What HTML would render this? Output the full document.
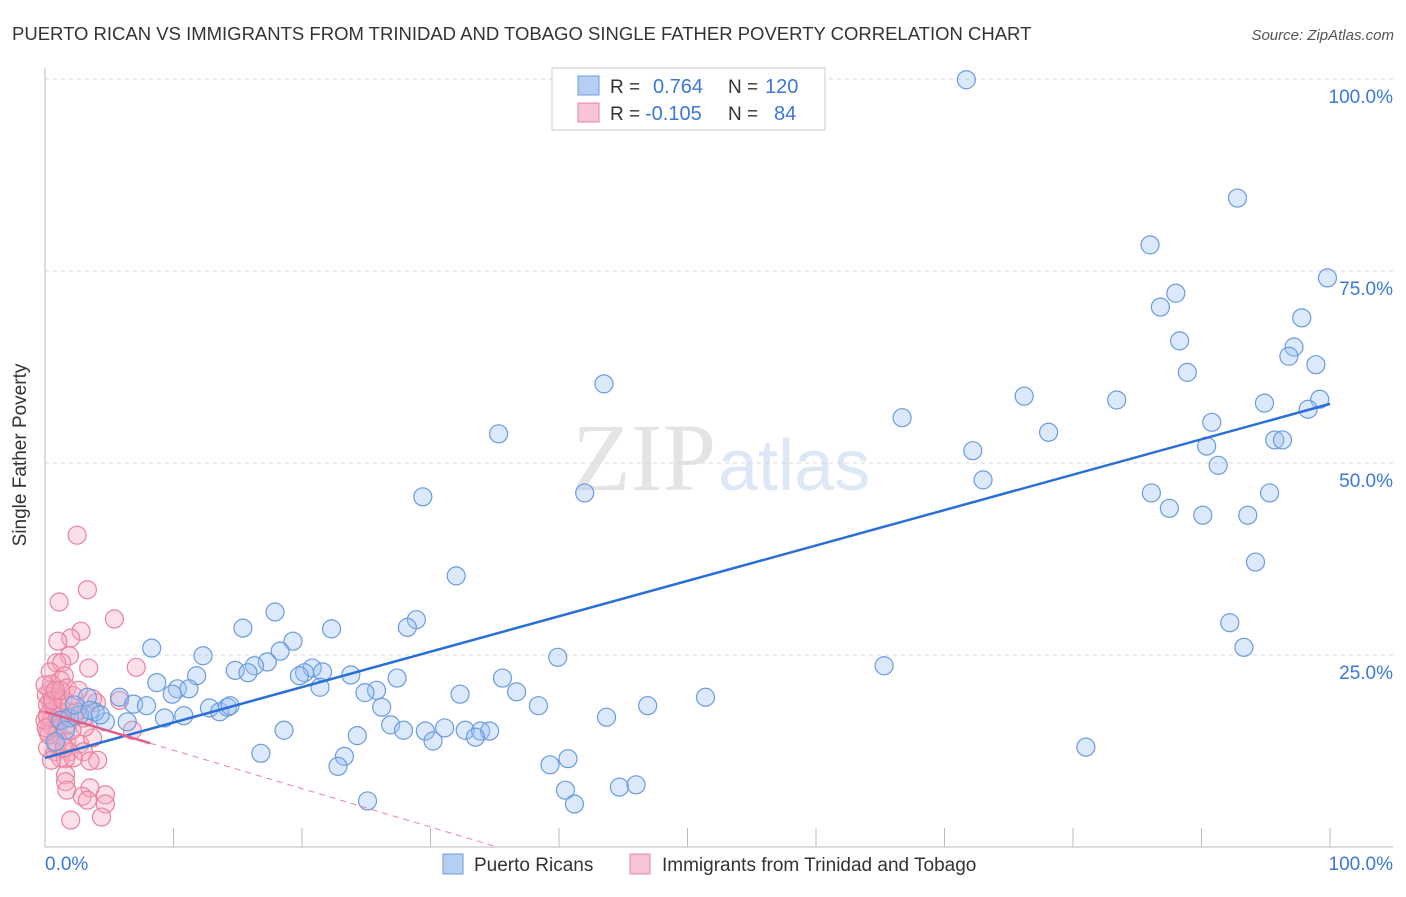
<!DOCTYPE html>
<html><head><meta charset="utf-8"><style>
body{margin:0;background:#fff;}
svg text{font-family:"Liberation Sans",sans-serif;}
</style></head><body>
<svg width="1406" height="892" viewBox="0 0 1406 892" xmlns="http://www.w3.org/2000/svg">
<text x="12" y="40" font-size="18.5" fill="#333">PUERTO RICAN VS IMMIGRANTS FROM TRINIDAD AND TOBAGO SINGLE FATHER POVERTY CORRELATION CHART</text>
<text x="1394" y="40" font-size="15" font-style="italic" fill="#555" text-anchor="end">Source: ZipAtlas.com</text>
<text x="716" y="490" font-size="96" fill="#e4e4e4" text-anchor="end" style="font-family:'Liberation Serif',serif">ZIP</text>
<text x="718" y="490" font-size="72" fill="#dde8f6">atlas</text>
<g id="grid"></g>
<g id="axes"></g>
<g id="pts"></g>
<g id="lines"></g>
<text x="26" y="455" font-size="19" fill="#333" text-anchor="middle" transform="rotate(-90 26 455)">Single Father Poverty</text>
<text x="45" y="870" font-size="19" fill="#3b78d8">0.0%</text>
<text x="1393" y="870" font-size="19" fill="#3b78d8" text-anchor="end">100.0%</text>
<g>
<rect x="552" y="68" width="273" height="62" fill="#fff" stroke="#ccc"/>
<rect x="578" y="76" width="21" height="19" fill="#b5cff2" stroke="#6a9be0"/>
<rect x="578" y="103" width="21" height="19" fill="#f8c5d5" stroke="#e8839f"/>
<text x="610" y="93" font-size="19" fill="#333">R =</text>
<text x="653" y="93" font-size="20" fill="#3b78d8">0.764</text>
<text x="728" y="93" font-size="19" fill="#333">N =</text>
<text x="765" y="93" font-size="20" fill="#3b78d8">120</text>
<text x="610" y="120" font-size="19" fill="#333">R =</text>
<text x="645" y="120" font-size="20" fill="#3b78d8">-0.105</text>
<text x="728" y="120" font-size="19" fill="#333">N =</text>
<text x="774" y="120" font-size="20" fill="#3b78d8">84</text>
</g>
<g>
<rect x="443" y="854" width="20" height="20" fill="#b5cff2" stroke="#6a9be0"/>
<text x="474" y="871" font-size="19" fill="#333">Puerto Ricans</text>
<rect x="630" y="854" width="20" height="20" fill="#f8c5d5" stroke="#e8839f"/>
<text x="662" y="871" font-size="19" fill="#333">Immigrants from Trinidad and Tobago</text>
</g>
</svg>
<script>
const yTicks=[25,50,75,100];
const yTickLabels=["25.0%","50.0%","75.0%","100.0%"];
const xTicks=[10,20,30,40,50,60,70,80,90,100];
const blueX=[71.7,92.8,86.0,99.8,88.0,86.8,97.8,88.3,97.2,96.8,98.9,88.9,43.5,66.7,76.2,83.4,99.2,94.9,98.3,90.8,78.1,35.3,95.7,96.3,90.4,72.2,91.3,73.0,42.0,86.1,95.3,29.4,87.5,90.1,93.6,32.0,94.2,92.2,93.3,8.3,28.9,28.2,17.9,22.3,15.4,19.3,12.3,39.9,65.3,18.3,17.3,14.8,16.3,11.8,15.8,20.8,21.6,20.2,19.8,23.8,8.7,10.3,11.2,21.4,25.8,24.9,27.4,35.6,32.3,36.7,51.4,3.3,5.8,6.9,7.9,9.9,12.8,13.6,14.2,14.4,26.2,38.4,46.9,43.7,10.8,9.3,6.4,4.7,18.6,26.9,27.9,29.6,31.1,32.7,33.9,34.6,33.5,30.2,24.3,16.8,23.3,22.8,39.3,40.7,81.0,40.5,44.7,46.0,41.2,25.1,1.2,1.9,2.7,1.6,3.9,0.8,2.3,3.5,4.3];
const blueY=[99.9,84.5,78.4,74.1,72.1,70.3,68.9,65.9,65.1,63.9,62.8,61.8,60.3,55.9,58.7,58.2,58.3,57.8,57.0,55.3,54.0,53.8,53.0,53.0,52.2,51.6,49.7,47.8,46.1,46.1,46.1,45.6,44.1,43.2,43.2,35.3,37.1,29.2,26.0,25.9,29.6,28.6,30.6,28.4,28.5,26.8,24.9,24.7,23.6,25.5,24.1,23.0,23.6,22.3,22.7,23.3,22.8,22.7,22.3,22.4,21.4,20.6,20.6,20.8,20.4,20.1,22.0,22.0,19.9,20.2,19.5,19.5,19.5,18.6,18.4,19.9,18.1,17.6,18.2,18.4,18.2,18.4,18.4,16.9,17.1,16.8,16.3,16.3,15.2,15.9,15.2,15.1,15.5,15.2,15.1,15.1,14.3,13.8,14.5,12.2,11.8,10.5,10.7,11.5,13.0,7.4,7.8,8.1,5.6,6.0,16.5,16.8,17.2,15.2,17.6,13.7,18.5,17.8,17.2];
const pinkX=[2.5,3.3,1.1,5.4,2.8,2.0,1.0,1.9,7.1,3.4,0.9,1.3,0.4,1.5,1.2,1.7,0.4,0.7,1.0,4.0,3.7,0.4,0.8,1.2,0.2,0.5,1.6,2.3,0.4,1.0,0.2,0.9,1.3,1.7,2.7,3.7,0.2,0.8,1.9,3.0,1.2,2.2,4.1,3.5,1.6,0.2,0.6,0.1,0.5,1.6,1.6,1.7,3.5,2.9,4.7,3.3,4.7,2.0,4.4,6.8,5.8,1.2,0.2,0.6,1.4,1.9,2.4,0.0,0.3,0.9,0.5,1.2,2.2,2.6,3.1,0.0,1.5,2.1,3.0,0.1,1.0,1.7,0.8];
const pinkY=[40.6,33.5,31.9,29.7,28.1,27.2,26.8,24.9,23.4,23.3,24.0,24.0,22.8,22.3,21.7,20.7,20.4,20.1,19.4,18.8,19.3,19.0,18.1,17.6,17.2,16.8,16.7,17.1,15.9,15.5,15.0,14.6,14.2,13.8,13.4,14.2,12.9,12.4,12.4,12.4,11.6,11.6,11.3,11.2,11.5,16.9,18.5,19.8,21.2,9.4,8.5,7.4,7.7,6.6,6.8,6.1,5.6,3.5,3.9,15.2,19.1,16.3,18.5,19.1,19.1,18.4,17.6,16.5,14.6,13.3,11.3,20.4,19.7,20.4,15.6,21.1,12.9,15.2,16.8,15.5,16.9,15.9,20.4];
const blueTrend=[11.6,57.7];
const pinkTrend=[17.6,-0.5];
const X0=45,X1=1330,Y0=847,Y1=79;
function sx(v){return X0+(X1-X0)*v/100;}
function sy(v){return Y0-(Y0-Y1)*v/100;}
const NS="http://www.w3.org/2000/svg";
function mk(t,a,p){const e=document.createElementNS(NS,t);for(const k in a)e.setAttribute(k,a[k]);p.appendChild(e);return e;}
const grid=document.getElementById('grid'),axes=document.getElementById('axes'),pts=document.getElementById('pts'),lines=document.getElementById('lines');
yTicks.forEach((t,i)=>{
 const l=mk('line',{x1:45,x2:1393,y1:sy(t),y2:sy(t),stroke:'#d8d8d8','stroke-dasharray':'4,4'},grid);
 
 
 const tx=mk('text',{x:1393,y:sy(t)+24,'font-size':19,fill:'#3b78d8','text-anchor':'end'},grid);
 tx.textContent=yTickLabels[i];
 
 
});
const ya=mk('line',{x1:45,x2:45,y1:68,y2:847,stroke:'#bbb'},axes);


const xa=mk('line',{x1:45,x2:1393,y1:847,y2:847,stroke:'#bbb'},axes);


xTicks.forEach(t=>{
 const l=mk('line',{x1:sx(t),x2:sx(t),y1:828,y2:847,stroke:'#bbb'},axes);
 
 
});
pinkX.forEach((x,i)=>{
 const c=mk('circle',{cx:sx(x),cy:sy(pinkY[i]),r:9,fill:'rgba(245,165,192,0.35)',stroke:'#e8839f','stroke-width':1.2},pts);
 
 
});
blueX.forEach((x,i)=>{
 const c=mk('circle',{cx:sx(x),cy:sy(blueY[i]),r:9,fill:'rgba(155,192,240,0.35)',stroke:'#6a9be0','stroke-width':1.2},pts);
 
 
});
const bl=mk('line',{x1:sx(0),y1:sy(blueTrend[0]),x2:sx(100),y2:sy(blueTrend[1]),stroke:'#2a6fd6','stroke-width':2.5},lines);


const pEnd=-pinkTrend[0]/pinkTrend[1];
const pd=mk('line',{x1:sx(8.2),y1:sy(pinkTrend[0]+pinkTrend[1]*8.2),x2:sx(pEnd),y2:sy(0),stroke:'#e8839f','stroke-width':1,'stroke-dasharray':'6,5'},lines);


const ps=mk('line',{x1:sx(0),y1:sy(pinkTrend[0]),x2:sx(8.2),y2:sy(pinkTrend[0]+pinkTrend[1]*8.2),stroke:'#e0608a','stroke-width':2.5},lines);


</script>
</body></html>
